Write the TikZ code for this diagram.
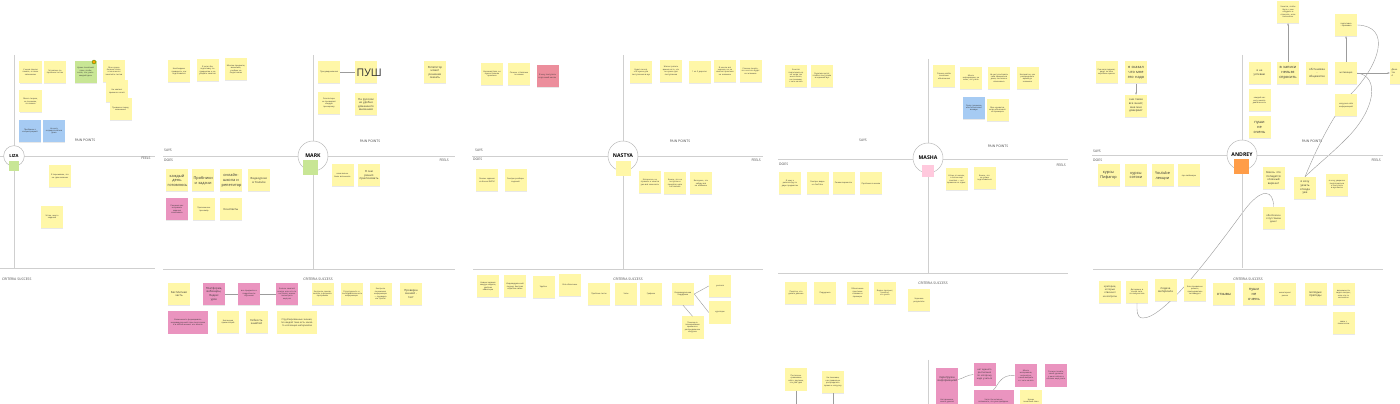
\documentclass[tikz,border=0pt]{standalone}
\usepackage{fontspec}
\setmainfont{Open Sans}
\usetikzlibrary{shadows,arrows.meta,backgrounds}
\definecolor{stickyyellow}{HTML}{FFF7A8}
\definecolor{stickypink}{HTML}{EA94BF}
\definecolor{stickyred}{HTML}{EC8E9C}
\definecolor{stickyblue}{HTML}{A6CBF3}
\definecolor{stickygreen}{HTML}{C8E695}
\definecolor{squarepink}{HTML}{FFC9DD}
\definecolor{squareorange}{HTML}{FF9D48}
\definecolor{axisgrey}{HTML}{CFCFCF}
\definecolor{ringgrey}{HTML}{B8B8B8}
\definecolor{linkgrey}{HTML}{9C9C9C}
\definecolor{labelgrey}{HTML}{444444}
\definecolor{notetext}{HTML}{333333}

\begin{document}
\begin{tikzpicture}[x=0.03cm,y=-0.03cm,>={Stealth[length=2pt,width=1.6pt]},
    sticky/.style={fill=stickyyellow, minimum width=0.66cm, minimum height=0.66cm,
      text width=0.56cm, align=center, inner sep=0.3pt, text=notetext,
      font=\fontsize{1.7}{2.1}\selectfont,
      drop shadow={shadow xshift=0.2pt, shadow yshift=-0.8pt, opacity=0.18}},
    pinky/.style={sticky, fill=stickypink},
    reddy/.style={sticky, fill=stickyred},
    bluey/.style={sticky, fill=stickyblue},
    greeny/.style={sticky, fill=stickygreen},
    wide/.style={minimum width=1.2cm, text width=1.1cm},
    smallt/.style={font=\fontsize{2.4}{3.1}\selectfont},
    mid/.style={font=\fontsize{3.3}{4.2}\selectfont},
    axis/.style={draw=axisgrey, line width=0.55pt},
    persona/.style={circle, draw=ringgrey, fill=white, line width=0.4pt,
      minimum size=0.9cm, inner sep=0pt, font=\bfseries\fontsize{4.4}{5}\selectfont},
    quad/.style={font=\fontsize{2.9}{3.5}\selectfont, text=labelgrey, inner sep=0pt},
    badge/.style={minimum size=0.45cm, inner sep=0pt},
    link/.style={draw=linkgrey, line width=0.35pt}]

\useasboundingbox (0,0) rectangle (1400,404);
\begin{scope}[on background layer]
  \fill[white] (0,0) rectangle (1400,404);
\end{scope}

% ---------------- LIZA
\draw[axis] (14,55) -- (14,268);
\draw[axis] (0,156) -- (155,156);
\draw[axis] (0,268) -- (155,268);
\node[persona, minimum size=0.62cm, font=\bfseries\fontsize{3.6}{4}\selectfont] (liza) at (14,156) {LIZA};
\node[badge, fill=stickygreen, minimum size=0.3cm] (lizasq) at (14,166) {};
\node[quad] (lizapain) at (85,140) {PAIN POINTS};
\node[quad] (lizafeels) at (146,158) {FEELS};
\node[quad, anchor=west] (lizacrit) at (2,279) {CRITERIA SUCCESS};

\node[sticky] (l1) at (30.5,72) {У меня плохая память, я плохо запоминаю};
\node[sticky] (l2) at (55,72) {Готовлюсь по пробным тестам};
\node[greeny] (l3) at (85.5,72) {Нужен понятный план, чтобы знать, что учить каждый день};
\node[circle, fill=orange!70!yellow, draw=green!50!black, line width=0.2pt, minimum size=0.12cm, inner sep=0pt] (l3icon) at (94,62) {};
\node[sticky] (l4) at (114,71) {Мне нужно больше спать, а пока много занятий и тестов};
\node[sticky] (l5) at (117,91.5) {Не хватает времени на всё};
\node[sticky] (l6) at (120.5,109) {Тревожно перед экзаменом};
\node[sticky] (l7) at (30.5,101.5) {Много теории, не понимаю, что важно};
\node[bluey] (l8) at (30,131) {Проблемы с концентрацией};
\node[bluey] (l9) at (54,131) {Не могу сосредоточиться дома};
\node[sticky] (l10) at (60,176.5) {Я переживаю, что не сдам экзамен};
\node[sticky] (l11) at (52,217) {Устаю, много заданий};

% ---------------- MARK
\draw[axis] (313,55) -- (313,269);
\draw[axis] (163,156) -- (455,156);
\draw[axis] (163,269) -- (455,269);
\node[persona] (mark) at (313,156) {MARK};
\node[badge, fill=stickygreen] (marksq) at (310,168) {};
\node[quad, anchor=west] (marksays) at (164,150) {SAYS};
\node[quad, anchor=west] (markdoes) at (164,160) {DOES};
\node[quad, anchor=east] (markfeels) at (449,160) {FEELS};
\node[quad] (markpain) at (370,141) {PAIN POINTS};
\node[quad] (markcrit) at (318,279) {CRITERIA SUCCESS};

\node[sticky] (m1) at (179,71.5) {Необходимо проверить, как подготовился};
\node[sticky] (m2) at (207.5,70.5) {Я хотел бы подготовку по предметам и не убирать занятия};
\node[sticky] (m3) at (236,69.5) {Многие предметы, возможно, учебник не подготовлен};
\node[sticky] (m4) at (329,72.5) {Пуш-уведомления};
\node[sticky, font=\fontsize{9}{10}\selectfont] (m5) at (366,72.5) {ПУШ};
\node[sticky, smallt] (m6) at (435,72.5) {Репетитор\\может\\решение\\сказать};
\node[sticky] (m7) at (329,103) {Репетиторы не проверяют каждую тренировку};
\node[sticky, smallt] (m8) at (366,104.5) {На русском\\не удобно\\домашнего\\внимания};
\node[sticky] (m9) at (342.5,175.5) {изначально было вспомнить};
\node[sticky, smallt] (m10) at (369,175.5) {Я сам\\решил\\практиковать};
\draw[link] (m4) -- (m5);

\node[sticky, mid] (md1) at (177,180.5) {каждый\\день\\готовлюсь};
\node[sticky, mid] (md2) at (203,180.5) {Пробники\\и задачи};
\node[sticky, mid] (md3) at (231,180.5) {онлайн-\\школа и\\репетитор};
\node[sticky, smallt] (md4) at (259,180.5) {Видеоуроки\\в Youtube};
\node[pinky] (md5) at (177,209.5) {Решения как исправить задания записывать};
\node[sticky] (md6) at (204,209.5) {Приложение-тренажёр};
\node[sticky, smallt] (md7) at (231,209.5) {Конспекты};

\node[sticky, smallt] (mc1) at (179,294) {Бесплатная\\часть};
\node[pinky, smallt] (mc2) at (214,294) {Платформа,\\вебинары,\\Яндекс\\урок};
\node[pinky] (mc3) at (249,294) {все предметы и подробности обучения};
\node[pinky] (mc4) at (287,294) {Записи занятий всегда, если что-то не понял, можно посмотреть ещё раз};
\node[sticky] (mc5) at (322.5,294) {Контроль сроков, внятно, в формате программы};
\node[sticky] (mc6) at (351.5,294) {Структурность и последовательность информации};
\node[sticky] (mc7) at (380.5,294) {Контроль понимания информации — проверка как Quizlet};
\node[sticky, smallt] (mc8) at (411,294) {Проверка\\знаний -\\тест};
\node[pinky, wide] (mc9) at (188,322.5) {Возможность формировать индивидуальный план подготовки и в любой момент его менять};
\node[sticky] (mc10) at (228,322) {Коллекция презентаций};
\node[sticky, smallt] (mc11) at (256.5,322) {Гибкость\\занятий};
\node[sticky, wide, font=\fontsize{2}{2.6}\selectfont] (mc12) at (297,322.5) {Сгруппированные знания, по каждой теме есть какая-то коллекция материалов};
\draw[link] (mc2) -- (mc3);
\draw[link] (mc3) -- (mc4);

% ---------------- NASTYA
\draw[axis] (623,55) -- (623,269);
\draw[axis] (472,156) -- (763,156);
\draw[axis] (473,269) -- (763,269);
\node[persona] (nastya) at (623,156) {NASTYA};
\node[badge, fill=stickyyellow] (nastyasq) at (623,169) {};
\node[quad, anchor=west] (nastyasays) at (475,150) {SAYS};
\node[quad, anchor=west] (nastyadoes) at (473,159) {DOES};
\node[quad, anchor=east] (nastyafeels) at (761,160) {FEELS};
\node[quad] (nastyapain) at (680,141) {PAIN POINTS};
\node[quad] (nastyacrit) at (628,279) {CRITERIA SUCCESS};

\node[sticky] (n1) at (492,74) {Хорошая база, но нужно больше практики};
\node[sticky] (n2) at (519,74) {Сложно с баллами по химии};
\node[reddy] (n3) at (547.5,76.5) {Я хочу поступить в вуз моей мечты};
\node[sticky] (n4) at (641,72.5) {Будет ли всё, что нужно для поступления в вуз};
\node[sticky] (n5) at (671,71) {Жалко тратить время на то, что не нужно для поступления};
\node[sticky] (n6) at (699.5,72.5) {1 из 3 дорогая};
\node[sticky] (n7) at (725,71) {В школе всё хорошо, но не хватает практики на экзамене};
\node[sticky] (n8) at (750.5,71) {Сложно понять, что из этого будет на экзамене};
\node[sticky] (nd1) at (487,180.5) {Решаю задания из банка ФИПИ};
\node[sticky] (nd2) at (515.5,180.5) {Смотрю разборы заданий};
\node[sticky] (nf1) at (650,182.5) {Интересно, но страшно и хочется уже всё закончить};
\node[sticky] (nf2) at (675,183.5) {Боюсь, что не поступлю и придётся идти на платное};
\node[sticky] (nf3) at (701,183.5) {Волнуюсь, что забуду всё на экзамене};

\node[sticky] (nc1) at (488,286.5) {Новые задания каждую неделю, удобная навигация};
\node[sticky] (nc2) at (515,286.5) {Индивидуальный подход, быстрая обратная связь};
\node[sticky] (nc3) at (543.5,287) {Удобно};
\node[sticky] (nc4) at (570,285) {Всё объяснено};
\node[sticky] (nc5) at (599,294) {Пробные тесты};
\node[sticky] (nc6) at (626,294) {Чаты};
\node[sticky] (nc7) at (651,294) {Графики};
\node[sticky] (nc8) at (683,294) {Индивидуальная поддержка};
\node[sticky] (nc9) at (720,286) {учителя};
\node[sticky] (nc10) at (720,312.5) {кураторы};
\node[sticky] (nc11) at (692.5,327.5) {Помощь в планировании времени и распределении нагрузки};
\draw[link] (nc8.east) -- (nc9.west);
\draw[link] (nc8.east) -- (nc10.west);
\draw[link] (nc8.south) -- (nc11.north);

% ---------------- MASHA
\draw[axis] (928,59) -- (928,273);
\draw[axis] (778,159) -- (1068,159);
\draw[axis] (778,273) -- (1068,273);
\draw[axis] (928,360) -- (928,404);
\node[persona] (masha) at (928,158) {MASHA};
\node[badge, fill=squarepink, minimum size=0.35cm] (mashasq) at (928,171) {};
\node[quad] (mashasays) at (863,140) {SAYS};
\node[quad] (mashapain) at (998,146) {PAIN POINTS};
\node[quad, anchor=west] (mashadoes) at (779,164) {DOES};
\node[quad, anchor=east] (mashafeels) at (1066,165) {FEELS};
\node[quad] (mashacrit) at (933,283) {CRITERIA SUCCESS};

\node[sticky] (s1) at (796,76) {Хочется подготовиться, но когда так много всего, не понимаю, с чего начать};
\node[sticky] (s2) at (822,76) {Родители хотят, чтобы я поступила в хороший вуз};
\node[sticky] (p1) at (944,76) {Сложно найти понятные объяснения};
\node[sticky] (p2) at (971,78) {Много информации, не знаю, что учить};
\node[sticky] (p3) at (999,78) {Не могу заставить себя заниматься дома, постоянно отвлекаюсь};
\node[sticky] (p4) at (1027.5,78) {Непонятно, как распределить время до экзамена};
\node[bluey] (p5) at (974,108) {Сразу понимаю, если объясняют вживую};
\node[sticky] (p6) at (997.5,110) {Мне нравится, когда объясняют на примерах};
\node[sticky] (sd1) at (790,183.5) {Я хожу к репетитору по двум предметам};
\node[sticky] (sd2) at (817.5,183.5) {Смотрю видео на YouTube};
\node[sticky] (sd3) at (843.5,183.5) {Решаю варианты};
\node[sticky] (sd4) at (871,183.5) {Пробники в школе};
\node[sticky] (sf1) at (956.5,179.5) {Устаю от школы, а потом ещё занятия — нет времени на отдых};
\node[sticky] (sf2) at (984.5,178) {Боюсь, что не успею подготовиться};
\node[sticky] (sc1) at (796,293) {Понятно, что делать дальше};
\node[sticky] (sc2) at (825,293) {Поддержка};
\node[sticky] (sc3) at (857.5,293) {Объяснение простыми словами и примеры};
\node[sticky] (sc4) at (885,293) {Видно прогресс, понятно, что учить};
\node[sticky] (sc5) at (919,300.5) {Хорошие результаты};

\node[sticky] (lb1) at (796,379.5) {Постоянно сравниваю себя с другими, кто уже сдал};
\node[sticky] (lb2) at (833,382) {Не понимаю, как правильно распределить время и нагрузку};
\coordinate (lb1end) at (796,410);
\coordinate (lb2end) at (833,410);
\draw[link] (lb1.south) -- (lb1end);
\draw[link] (lb2.south) -- (lb2end);
\node[pinky, smallt] (lp1) at (947,379.5) {перегрузка\\информацией};
\node[pinky, font=\fontsize{2}{2.6}\selectfont] (lp2) at (984.5,374.5) {нет единого расписания по которому надо учиться};
\node[pinky] (lp3) at (1026,375.5) {Много материалов, непонятно, какой выбрать и с чего начать};
\node[pinky] (lp4) at (1056,375.5) {Сложно понять, какой уровень у меня сейчас и сколько ещё учить};
\node[pinky] (lp5) at (947,401) {Нет времени, много уроков};
\node[pinky, wide] (lp6) at (993.5,401) {Часто бы хотелось вспомнить, что уже пройдено};
\node[sticky] (ly1) at (1031,401) {Нужен понятный план};
\draw[link] (lp1.east) .. controls (964,378) and (967,375) .. (lp2.west);
\draw[link] (lp3.west) .. controls (1000,374) and (998,386) .. (lp6.north);

% ---------------- ANDREY
\draw[axis] (1242,55) -- (1242,268);
\draw[axis] (1092,155) -- (1383,155);
\draw[axis] (1093,269) -- (1383,269);
\node[persona] (andrey) at (1242,155) {ANDREY};
\node[badge, fill=squareorange] (andreysq) at (1241.5,166.5) {};
\node[quad, anchor=west] (andreysays) at (1093,151) {SAYS};
\node[quad, anchor=west] (andreydoes) at (1093,160) {DOES};
\node[quad, anchor=east] (andreyfeels) at (1381,160) {FEELS};
\node[quad] (andreypain) at (1312,141) {PAIN POINTS};
\node[quad] (andreycrit) at (1248,279) {CRITERIA SUCCESS};

\node[sticky] (as1) at (1106.5,72) {Сначала подумал, дадут ли мне хорошие оценки};
\node[sticky, mid] (as2) at (1136,72.5) {я сказал\\что мне\\это надо};
\node[sticky, smallt] (as3) at (1136,106) {они такие\\все знают,\\мне мне\\доверяют};
\node[sticky, smallt] (ap1) at (1259.5,73) {я не\\успеваю};
\node[sticky, mid] (ap2) at (1288,73) {в записи\\нельзя\\спросить};
\node[sticky, smallt] (ap3) at (1317,73) {обстановка\\-\\общежитие};
\node[sticky, font=\fontsize{2}{2.6}\selectfont] (ap4) at (1346,73) {мотивация};
\node[sticky, align=left, font=\fontsize{1.9}{2.5}\selectfont, inner sep=0.6pt] (ap5) at (1401,73) {Даже\\так\\А};
\node[sticky] (ap6) at (1259.5,100.5) {каждый час могу менять деятельность};
\node[sticky, mid] (ap7) at (1259.5,127.5) {пуши\\не\\очень};
\node[sticky] (ap8) at (1346,105.5) {нагрузил себя информацией};
\node[sticky] (at1) at (1288,12) {Хочется, чтобы было с кем обсудить и спросить, если непонятно};
\node[sticky] (at2) at (1346,25) {подготовка - прививка};
\node[sticky, mid] (ad1) at (1108.5,175.5) {курсы\\Пифагор};
\node[sticky, mid] (ad2) at (1136,175.5) {курсы\\сотохи};
\node[sticky, mid] (ad3) at (1162.5,175.5) {Youtube\\лекции};
\node[sticky] (ad4) at (1189,175.5) {про вебинары};
\node[sticky, smallt] (af1) at (1273.5,178.5) {Боюсь что\\попадется\\сложный\\вариант};
\node[sticky, smallt] (af2) at (1305,188) {я хочу\\уехать\\отсюда\\уже};
\node[sticky] (af3) at (1337,185) {я хочу уверенно подготовиться и поступить в вуз мечты};
\node[sticky, font=\fontsize{2.1}{2.7}\selectfont] (af4) at (1273.5,218.5) {обеспокоен\\отсутствием\\денег};
\node[sticky, font=\fontsize{2.1}{2.7}\selectfont] (ac1) at (1110,292) {критерии,\\которые\\отвечают\\на вопросы};
\node[sticky] (ac2) at (1137,292) {Догадаюсь в конце лета, что выучил все};
\node[sticky, smallt] (ac3) at (1165.5,290.5) {подача\\материала};
\node[sticky] (ac4) at (1195,290.5) {Если правильно решить, преподаватель мотивирует};
\node[sticky, mid] (ac5) at (1224,294.5) {отзывы};
\node[sticky, mid] (ac6) at (1254,294.5) {пуши\\не\\очень};
\node[sticky] (ac7) at (1285,294.5) {мониторинг рынка};
\node[sticky, smallt] (ac8) at (1315.5,294.5) {молодые\\преподы};
\node[sticky] (ac9) at (1343.5,294.5) {возможность задать вопрос, если что-то непонятно};
\node[sticky] (ac10) at (1343.5,323) {связь с психологом};

\draw[link,->] (as2) -- (as3);
\draw[link,->] (ap2) -- (at1);
\draw[link,->] (ap4) -- (at2);
\draw[link,->] (ap4) -- (ap5);
\begin{scope}[on background layer]
  \draw[link] (at2.east) .. controls (1392,26) and (1380,65) .. (1350,95)
     .. controls (1328,122) and (1312,160) .. (af2.north);
  \draw[link] (ap4.east) .. controls (1380,76) and (1376,110) .. (1345,140)
     .. controls (1330,155) and (1316,166) .. (af2.north);
  \draw[link] (af4.north) .. controls (1274,190) and (1262,186) .. (1243,212)
     .. controls (1215,250) and (1165,318) .. (1143,318)
     .. controls (1136,318) and (1137,310) .. (ac2.south);
\end{scope}
\end{tikzpicture}
\end{document}
